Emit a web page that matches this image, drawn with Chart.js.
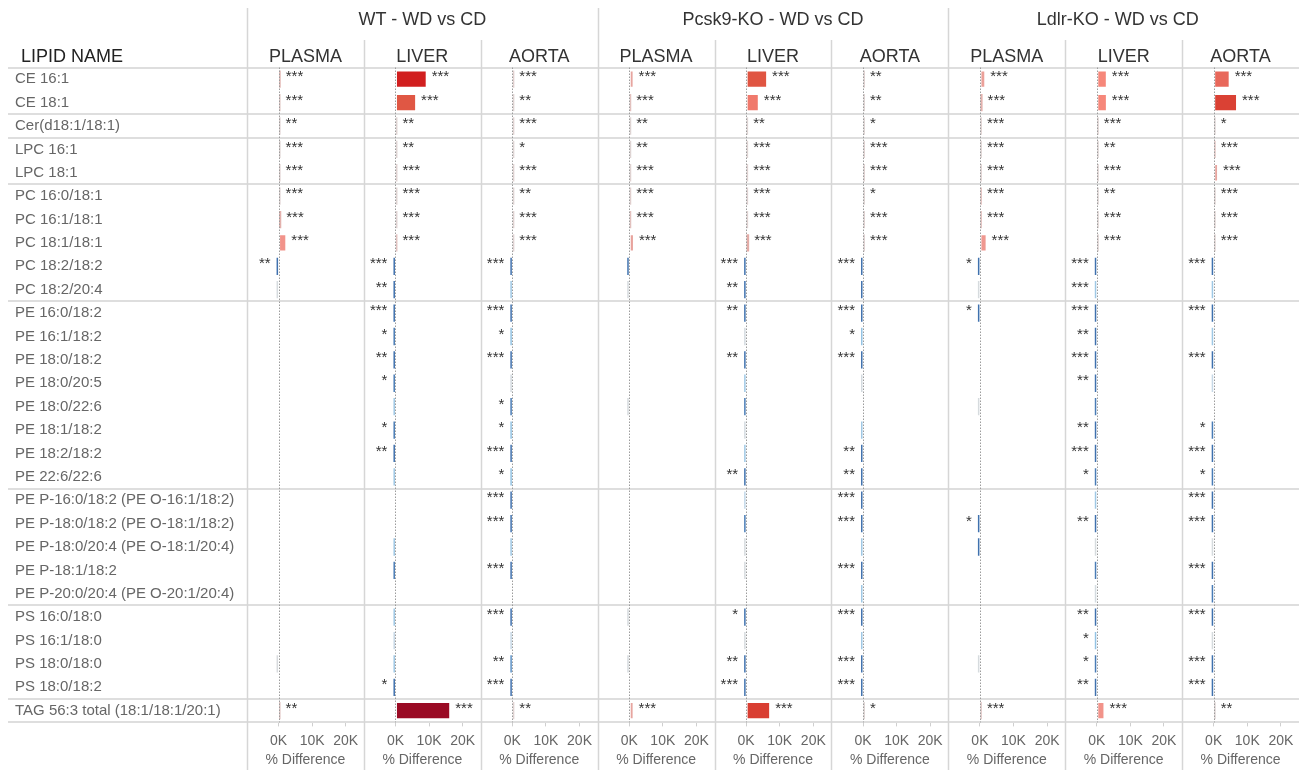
<!DOCTYPE html>
<html>
<head>
<meta charset="utf-8">
<title>Lipid % difference, WD vs CD</title>
<script src="https://cdn.jsdelivr.net/npm/chart.js@4.4.1/dist/chart.umd.min.js"></script>
<style>
  html, body { margin: 0; padding: 0; background: #fff; }
  #wrap { position: relative; width: 1299px; height: 770px; overflow: hidden;
          font-family: "Liberation Sans", Arial, Helvetica, sans-serif; }
  #chart { position: absolute; left: 0; top: 0; }
  .hd { position: absolute; font-size: 18px; color: #333; white-space: nowrap;
        transform: translate(-50%, -50%); line-height: 1; }
  .hd.left { transform: translate(0, -50%); color: #222; }
</style>
</head>
<body>
<div id="wrap"><canvas id="chart" width="1299" height="770"></canvas></div>
<script>
// ---- data -------------------------------------------------------------
const lipids = [
  'CE 16:1', 'CE 18:1', 'Cer(d18:1/18:1)', 'LPC 16:1', 'LPC 18:1',
  'PC 16:0/18:1', 'PC 16:1/18:1', 'PC 18:1/18:1', 'PC 18:2/18:2', 'PC 18:2/20:4',
  'PE 16:0/18:2', 'PE 16:1/18:2', 'PE 18:0/18:2', 'PE 18:0/20:5', 'PE 18:0/22:6',
  'PE 18:1/18:2', 'PE 18:2/18:2', 'PE 22:6/22:6',
  'PE P-16:0/18:2 (PE O-16:1/18:2)', 'PE P-18:0/18:2 (PE O-18:1/18:2)',
  'PE P-18:0/20:4 (PE O-18:1/20:4)', 'PE P-18:1/18:2', 'PE P-20:0/20:4 (PE O-20:1/20:4)',
  'PS 16:0/18:0', 'PS 16:1/18:0', 'PS 18:0/18:0', 'PS 18:0/18:2',
  'TAG 56:3 total (18:1/18:1/20:1)'
];
const genotypes = ['WT - WD vs CD', 'Pcsk9-KO - WD vs CD', 'Ldlr-KO - WD vs CD'];
const tissues = ['PLASMA', 'LIVER', 'AORTA'];
const tickValues = [0, 10000, 20000];

// % difference (WD vs CD); null = not measured
const wtPlasma   = [650, 350, 150, 120, 180, 150, 800, 2300, -85, -5, null, null, null, null, null, null, null, null, null, null, null, null, null, null, null, -4, null, 400];
const wtLiver    = [9300, 6150, 120, 100, 150, 120, 130, 450, -85, -85, -85, -80, -85, -80, -40, -80, -85, -40, null, null, -40, -80, null, -40, -20, -40, -85, 16300];
const wtAorta    = [200, 120, 150, 80, 150, 100, 150, 130, -85, -40, -85, -45, -85, -8, -80, -45, -85, -45, -85, -85, -40, -85, null, -85, -20, -70, -85, 150];
const pcskPlasma = [1300, 500, 100, 100, 150, 200, 500, 1400, -85, -5, null, null, null, null, -5, null, null, null, null, null, null, null, null, -5, null, -5, null, 1300];
const pcskLiver  = [6250, 3770, 100, 120, 150, 130, 150, 900, -85, -85, -85, -8, -85, -40, -80, -8, -40, -85, -25, -80, -5, -5, null, -85, -5, -85, -85, 7150];
const pcskAorta  = [150, 100, 80, 150, 150, 80, 150, 130, -85, -85, -85, -45, -85, -8, null, -40, -85, -85, -85, -85, -40, -85, -40, -85, -40, -85, -85, 80];
const ldlrPlasma = [1600, 800, 150, 100, 150, 500, 500, 2000, -85, -5, -85, null, null, null, -5, null, null, null, null, -85, -85, null, null, null, null, -5, null, 300];
const ldlrLiver  = [2980, 3000, 150, 100, 150, 100, 120, 150, -85, -40, -85, -85, -85, -85, -80, -85, -85, -80, -40, -85, -5, -80, -8, -85, -45, -80, -85, 2280];
const ldlrAorta  = [4760, 6950, 100, 450, 1300, 150, 150, 150, -85, -40, -85, -40, -85, -20, null, -80, -85, -80, -85, -85, -5, -85, -80, -85, -5, -85, -85, 100];

// significance level (number of asterisks), 0 = not significant
const wtPlasmaSig   = [3,3,2,3,3,3,3,3,2,0, 0,0,0,0,0,0,0,0, 0,0,0,0,0, 0,0,0,0,2];
const wtLiverSig    = [3,3,2,2,3,3,3,3,3,2, 3,1,2,1,0,1,2,0, 0,0,0,0,0, 0,0,0,1,3];
const wtAortaSig    = [3,2,3,1,3,2,3,3,3,0, 3,1,3,0,1,1,3,1, 3,3,0,3,0, 3,0,2,3,2];
const pcskPlasmaSig = [3,3,2,2,3,3,3,3,0,0, 0,0,0,0,0,0,0,0, 0,0,0,0,0, 0,0,0,0,3];
const pcskLiverSig  = [3,3,2,3,3,3,3,3,3,2, 2,0,2,0,0,0,0,2, 0,0,0,0,0, 1,0,2,3,3];
const pcskAortaSig  = [2,2,1,3,3,1,3,3,3,0, 3,1,3,0,0,0,2,2, 3,3,0,3,0, 3,0,3,3,1];
const ldlrPlasmaSig = [3,3,3,3,3,3,3,3,1,0, 1,0,0,0,0,0,0,0, 0,1,0,0,0, 0,0,0,0,3];
const ldlrLiverSig  = [3,3,3,2,3,2,3,3,3,3, 3,2,3,2,0,2,3,1, 0,2,0,0,0, 2,1,1,2,3];
const ldlrAortaSig  = [3,3,1,3,3,3,3,3,3,0, 3,0,3,0,0,1,3,1, 3,3,0,3,0, 3,0,3,3,2];

const panelValues = [wtPlasma, wtLiver, wtAorta, pcskPlasma, pcskLiver, pcskAorta, ldlrPlasma, ldlrLiver, ldlrAorta];
const panelSig = [wtPlasmaSig, wtLiverSig, wtAortaSig, pcskPlasmaSig, pcskLiverSig, pcskAortaSig, ldlrPlasmaSig, ldlrLiverSig, ldlrAortaSig];

// ---- styling ------------------------------------------------------------
const FONT = '"Liberation Sans", Arial, Helvetica, sans-serif';
const X_MIN = -9400, X_MAX = 25400;
const LINE = '#dedede';

function hexToRgb(h) { return [1, 3, 5].map(i => parseInt(h.slice(i, i + 2), 16)); }
function lerpStops(stops, v) {
  if (v <= stops[0][0]) return stops[0][1];
  for (let i = 1; i < stops.length; i++) {
    if (v <= stops[i][0]) {
      const [a, ca] = stops[i - 1], [b, cb] = stops[i];
      const t = (v - a) / (b - a);
      const A = hexToRgb(ca), B = hexToRgb(cb);
      const c = A.map((x, k) => Math.round(x + (B[k] - x) * t));
      return `rgb(${c[0]},${c[1]},${c[2]})`;
    }
  }
  return stops[stops.length - 1][1];
}
// diverging colour ramp: grey at zero, reds for increases, blues for decreases
const redRamp = [[0, '#dcd8d8'], [300, '#e2cbc9'], [900, '#e3aca7'], [2300, '#f2938a'],
                 [3000, '#f6877a'], [4800, '#e8675a'], [6200, '#e05643'], [7000, '#da4033'],
                 [9300, '#d11f1f'], [16300, '#9a0a24']];
const blueRamp = [[0, '#dadada'], [10, '#d2dbe2'], [25, '#c2d7e8'], [45, '#93c3e4'],
                  [70, '#5d92c7'], [85, '#3f71ae'], [100, '#2b5b99']];
function barColour(v) {
  if (v == null) return 'rgba(0,0,0,0)';
  return v >= 0 ? lerpStops(redRamp, v) : lerpStops(blueRamp, -v);
}

// lipid class used for the horizontal group separators
function lipidClass(name) {
  if (name.startsWith('PE P-')) return 'PE P';
  return name.split(/[ (]/)[0];
}

// ---- decorations: panel borders, group separators, zero lines, asterisks ----
const panelDecor = {
  id: 'panelDecor',
  beforeDatasetsDraw(chart) {
    const { ctx } = chart;
    const y = chart.scales.y;
    const half = (y.getPixelForValue(1) - y.getPixelForValue(0)) / 2;
    ctx.save();
    ctx.strokeStyle = LINE;
    ctx.lineWidth = 2;
    const edges = [0];
    for (let i = 1; i < lipids.length; i++) {
      if (lipidClass(lipids[i]) !== lipidClass(lipids[i - 1])) edges.push(i);
    }
    edges.push(lipids.length);
    edges.forEach(e => {
      const yy = Math.round(e < lipids.length ? y.getPixelForValue(e) - half
                                              : y.getPixelForValue(e - 1) + half);
      ctx.beginPath(); ctx.moveTo(8, yy); ctx.lineTo(chart.width, yy); ctx.stroke();
    });
    ctx.lineWidth = 1.5;
    ctx.strokeStyle = '#d6d6d6';
    for (let k = 0; k < 9; k++) {
      const s = chart.scales['x' + k];
      const xx = Math.round(s.left) + 0.5;
      const top = k % 3 === 0 ? 8 : 40;
      ctx.beginPath(); ctx.moveTo(xx, top); ctx.lineTo(xx, chart.height); ctx.stroke();
    }
    ctx.restore();
  },
  afterDatasetsDraw(chart) {
    const { ctx, chartArea } = chart;
    ctx.save();
    // dotted zero reference line in every panel
    ctx.strokeStyle = '#9c9c9c';
    ctx.lineWidth = 1;
    ctx.setLineDash([1.5, 1.5]);
    for (let k = 0; k < 9; k++) {
      const s = chart.scales['x' + k];
      const x0 = Math.round(s.getPixelForValue(0)) + 0.5;
      ctx.beginPath(); ctx.moveTo(x0, chartArea.top); ctx.lineTo(x0, chartArea.bottom); ctx.stroke();
    }
    ctx.setLineDash([]);
    // significance asterisks beside each bar
    ctx.fillStyle = '#333';
    ctx.font = '15px ' + FONT;
    ctx.textBaseline = 'middle';
    chart.data.datasets.forEach((ds, di) => {
      const meta = chart.getDatasetMeta(di);
      meta.data.forEach((el, i) => {
        const v = ds.data[i];
        const n = ds.sig[i];
        if (v == null || !n) return;
        const txt = '*'.repeat(n);
        if (v >= 0) {
          ctx.textAlign = 'left';
          ctx.fillText(txt, Math.max(el.x, el.base) + 5, el.y - 2);
        } else {
          ctx.textAlign = 'right';
          ctx.fillText(txt, Math.min(el.x, el.base) - 6, el.y - 2);
        }
      });
    });
    ctx.restore();
  }
};

// ---- chart --------------------------------------------------------------
const scales = {
  y: {
    type: 'category',
    position: 'left',
    offset: true,
    afterFit: s => { s.width = 232; s.paddingTop = 0; s.paddingBottom = 0; },
    grid: { display: false },
    border: { display: false },
    ticks: { crossAlign: 'far', autoSkip: false, padding: 0, color: '#666',
             font: { size: 15, family: FONT } }
  }
};
const datasets = [];
for (let k = 0; k < 9; k++) {
  scales['x' + k] = {
    type: 'linear',
    position: 'bottom',
    stack: 'panels',
    stackWeight: 1,
    min: X_MIN,
    max: X_MAX,
    afterBuildTicks: s => { s.ticks = tickValues.map(v => ({ value: v })); },
    // fixed axis band height; tick labels sit well inside each panel, so no side padding
    afterFit: s => { s.height = 47.6; s.paddingLeft = 0; s.paddingRight = 0; },
    grid: { drawOnChartArea: false, drawTicks: true, tickLength: 4, tickColor: '#cfcfcf', color: '#cfcfcf' },
    border: { display: false },
    ticks: { autoSkip: false, maxRotation: 0, padding: 6, color: '#666',
             font: { size: 14, family: FONT }, callback: v => (v / 1000) + 'K' },
    title: { display: true, text: '% Difference', color: '#666',
             font: { size: 14, family: FONT }, padding: { top: 0, bottom: 1 } }
  };
  const vals = panelValues[k];
  datasets.push({
    label: genotypes[Math.floor(k / 3)] + ' ' + tissues[k % 3],
    data: vals,
    sig: panelSig[k],
    xAxisID: 'x' + k,
    yAxisID: 'y',
    backgroundColor: vals.map(barColour),
    borderColor: 'rgba(255,255,255,0.45)',
    borderWidth: vals.map(v => (v != null && v > 1000 ? 1 : 0)),
    borderSkipped: false
  });
}

const chart = new Chart(document.getElementById('chart'), {
  type: 'bar',
  data: { labels: lipids, datasets },
  options: {
    indexAxis: 'y',
    responsive: false,
    animation: false,
    layout: { padding: { top: 67.5, left: 15, right: 0, bottom: 0 } },
    datasets: { bar: { grouped: false, categoryPercentage: 1, barPercentage: 0.74, minBarLength: 2 } },
    plugins: { legend: { display: false }, tooltip: { enabled: false } },
    scales
  },
  plugins: [panelDecor]
});

// ---- header text ----------------------------------------------------------
const wrap = document.getElementById('wrap');
function addHeader(text, x, y, cls) {
  const d = document.createElement('div');
  d.className = 'hd' + (cls ? ' ' + cls : '');
  d.textContent = text;
  d.style.left = x + 'px';
  d.style.top = y + 'px';
  wrap.appendChild(d);
}
addHeader('LIPID NAME', 21, 56, 'left');
genotypes.forEach((g, gi) => {
  const a = chart.scales['x' + gi * 3], b = chart.scales['x' + (gi * 3 + 2)];
  addHeader(g, (a.left + b.right) / 2 - (gi === 2 ? 6 : 0), 19);
});
for (let k = 0; k < 9; k++) {
  const s = chart.scales['x' + k];
  addHeader(tissues[k % 3], (s.left + s.right) / 2, 56);
}
</script>
</body>
</html>
